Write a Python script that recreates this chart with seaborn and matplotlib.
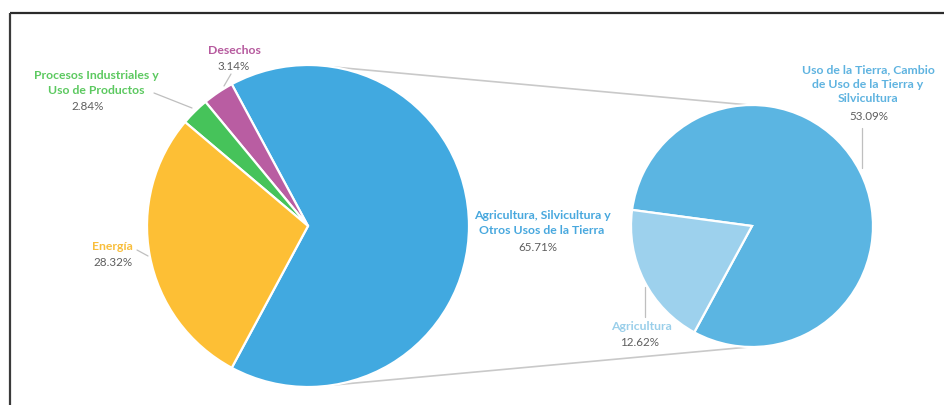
import numpy as np
import matplotlib
matplotlib.use("Agg")
import matplotlib.pyplot as plt
import seaborn as sns

# ---- data ----
main_labels = ["Agricultura, Silvicultura y\nOtros Usos de la Tierra", "Desechos",
               "Procesos Industriales y\nUso de Productos", "Energía"]
main_values = [65.71, 3.14, 2.84, 28.32]
sub_labels = ["Uso de la Tierra, Cambio\nde Uso de la Tierra y\nSilvicultura", "Agricultura"]
sub_values = [53.09, 12.62]

main_colors = ["#41A9E0", "#B95DA2", "#46C35A", "#FDBF35"]
main_text_colors = ["#48A8DE", "#B65A9E", "#5CC960", "#F8BE3C"]
sub_colors = ["#5BB5E2", "#9DD1ED"]
sub_text_colors = ["#5EB3E0", "#9ACFEA"]

sns.set_theme(style="white")
plt.rcParams["font.family"] = ["Lato", "DejaVu Sans"]

W, H = 945, 405
fig = plt.figure(figsize=(W / 100, H / 100), dpi=100)
ax = fig.add_axes([0, 0, 1, 1])

def Y(y):
    return H - y

# left pie
c1 = (308, Y(226)); r1 = 161
start1 = -main_values[0] / sum(main_values) * 180
ax.pie(main_values, colors=main_colors, startangle=start1, center=c1, radius=r1,
       wedgeprops=dict(edgecolor="white", linewidth=1.6), frame=True)

# right pie
c2 = (752, Y(226)); r2 = 121
ax.pie(sub_values, colors=sub_colors, startangle=-118.5, center=c2, radius=r2,
       wedgeprops=dict(edgecolor="white", linewidth=1.6), frame=True)
ax.set_xlim(0, W)
ax.set_ylim(0, H)
ax.set_aspect("equal")
ax.axis("off")

# connector lines
a = np.deg2rad(81)
for s in (1, -1):
    p0 = (c1[0] + r1 * np.cos(a), c1[1] + s * r1 * np.sin(a))
    p1 = (c2[0] - 3, c2[1] + s * r2)
    ax.plot([p0[0], p1[0]], [p0[1], p1[1]], color="#C9C9C9", lw=1.2, zorder=0)

pct_color = "#5E5E5E"
fs = 8.8
fs_pct = 8.4

def lab(x, y, text, color, bold=True, ls=1.4):
    ax.text(x, Y(y), text, color=color, fontsize=fs if bold else fs_pct,
            ha="center", va="center",
            fontweight="bold" if bold else "normal", linespacing=ls)

# Desechos
lab(234, 50, main_labels[1], main_text_colors[1])
lab(234, 66, f"{main_values[1]:.2f}%", pct_color, bold=False)
ax.plot([231, 224], [Y(74), Y(86)], color="#BFBFBF", lw=0.9)

# Procesos
lab(96, 83, main_labels[2], main_text_colors[2])
lab(88, 106, f"{main_values[2]:.2f}%", pct_color, bold=False)
ax.plot([154, 192], [Y(93), Y(108)], color="#BFBFBF", lw=0.9)

# Energia
lab(112, 247, main_labels[3], main_text_colors[3])
lab(113, 263, f"{main_values[3]:.2f}%", pct_color, bold=False)
ax.plot([137, 148], [Y(250), Y(256)], color="#BFBFBF", lw=0.9)

# Agricultura, Silvicultura...
lab(542, 223, main_labels[0], main_text_colors[0])
lab(538, 248, f"{main_values[0]:.2f}%", pct_color, bold=False)

# Uso de la Tierra...
lab(868, 84, sub_labels[0], sub_text_colors[0])
lab(869, 117, f"{sub_values[0]:.2f}%", pct_color, bold=False)
ax.plot([862, 862], [Y(128), Y(168)], color="#BFBFBF", lw=0.9)

# Agricultura
lab(641, 327, sub_labels[1], sub_text_colors[1])
lab(640, 343, f"{sub_values[1]:.2f}%", pct_color, bold=False)
ax.plot([645, 645], [Y(287), Y(317)], color="#BFBFBF", lw=0.9)

# frame
ax.plot([10, W], [Y(13), Y(13)], color="#2B2B2B", lw=1.6, solid_capstyle="butt")
ax.plot([10, 10], [Y(13), 0], color="#3A3A3A", lw=1.6, solid_capstyle="butt")

fig.savefig("out.png", dpi=100, facecolor="white")
